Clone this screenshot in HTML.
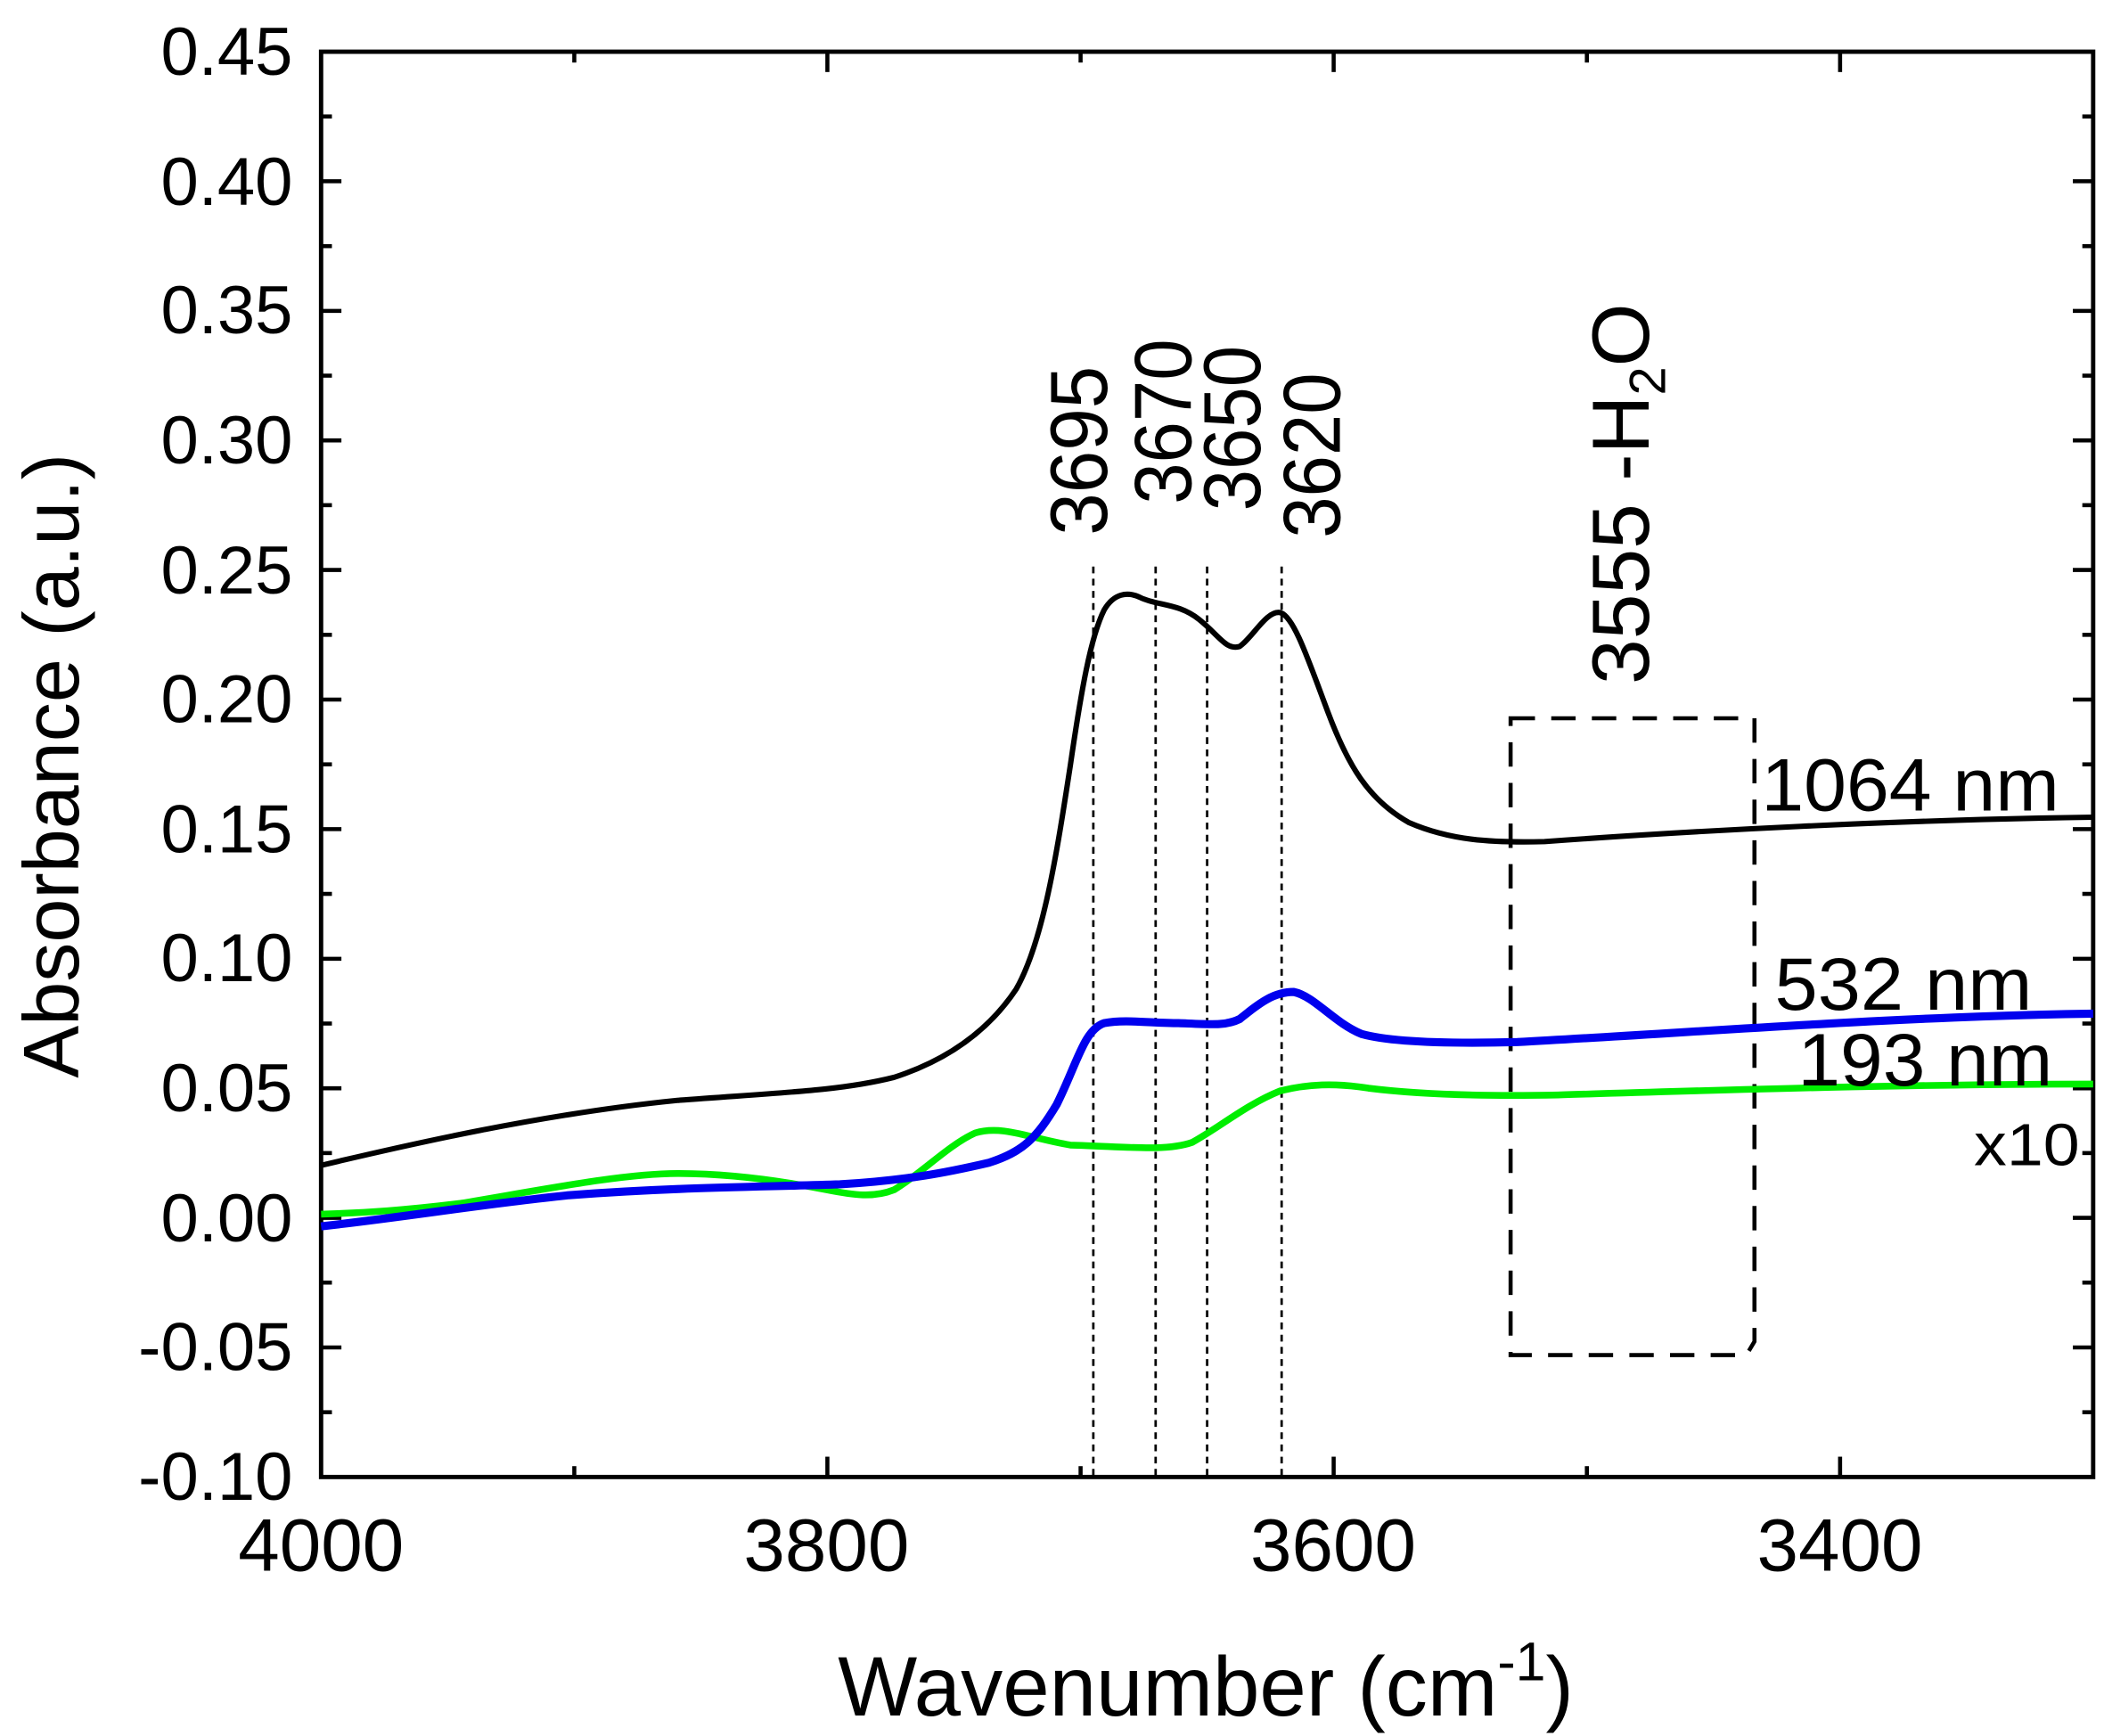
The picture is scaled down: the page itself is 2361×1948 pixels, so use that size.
<!DOCTYPE html>
<html><head><style>html,body{margin:0;padding:0;background:#fff}svg{display:block}</style></head>
<body>
<svg width="2361" height="1948" viewBox="0 0 1553 1281" xmlns="http://www.w3.org/2000/svg" font-family="Liberation Sans, Arial, sans-serif">
<rect width="1553" height="1281" fill="#fff"/>
<g stroke="#000" stroke-width="3.2" fill="none">
<rect x="237" y="38" width="1308" height="1052"/>
</g>
<g stroke="#000" stroke-width="3">
<line x1="237" y1="133.6" x2="252" y2="133.6"/><line x1="237" y1="229.3" x2="252" y2="229.3"/><line x1="237" y1="324.9" x2="252" y2="324.9"/><line x1="237" y1="420.5" x2="252" y2="420.5"/><line x1="237" y1="516.2" x2="252" y2="516.2"/><line x1="237" y1="611.8" x2="252" y2="611.8"/><line x1="237" y1="707.5" x2="252" y2="707.5"/><line x1="237" y1="803.1" x2="252" y2="803.1"/><line x1="237" y1="898.7" x2="252" y2="898.7"/><line x1="237" y1="994.4" x2="252" y2="994.4"/>
<line x1="237" y1="85.8" x2="245" y2="85.8"/><line x1="237" y1="181.5" x2="245" y2="181.5"/><line x1="237" y1="277.1" x2="245" y2="277.1"/><line x1="237" y1="372.7" x2="245" y2="372.7"/><line x1="237" y1="468.4" x2="245" y2="468.4"/><line x1="237" y1="564" x2="245" y2="564"/><line x1="237" y1="659.6" x2="245" y2="659.6"/><line x1="237" y1="755.3" x2="245" y2="755.3"/><line x1="237" y1="850.9" x2="245" y2="850.9"/><line x1="237" y1="946.5" x2="245" y2="946.5"/><line x1="237" y1="1042.2" x2="245" y2="1042.2"/>
<line x1="1530" y1="133.6" x2="1545" y2="133.6"/><line x1="1530" y1="229.3" x2="1545" y2="229.3"/><line x1="1530" y1="324.9" x2="1545" y2="324.9"/><line x1="1530" y1="420.5" x2="1545" y2="420.5"/><line x1="1530" y1="516.2" x2="1545" y2="516.2"/><line x1="1530" y1="611.8" x2="1545" y2="611.8"/><line x1="1530" y1="707.5" x2="1545" y2="707.5"/><line x1="1530" y1="803.1" x2="1545" y2="803.1"/><line x1="1530" y1="898.7" x2="1545" y2="898.7"/><line x1="1530" y1="994.4" x2="1545" y2="994.4"/>
<line x1="1537" y1="85.8" x2="1545" y2="85.8"/><line x1="1537" y1="181.5" x2="1545" y2="181.5"/><line x1="1537" y1="277.1" x2="1545" y2="277.1"/><line x1="1537" y1="372.7" x2="1545" y2="372.7"/><line x1="1537" y1="468.4" x2="1545" y2="468.4"/><line x1="1537" y1="564" x2="1545" y2="564"/><line x1="1537" y1="659.6" x2="1545" y2="659.6"/><line x1="1537" y1="755.3" x2="1545" y2="755.3"/><line x1="1537" y1="850.9" x2="1545" y2="850.9"/><line x1="1537" y1="946.5" x2="1545" y2="946.5"/><line x1="1537" y1="1042.2" x2="1545" y2="1042.2"/>
<line x1="610.7" y1="1090" x2="610.7" y2="1075"/><line x1="984.4" y1="1090" x2="984.4" y2="1075"/><line x1="1358.2" y1="1090" x2="1358.2" y2="1075"/>
<line x1="423.9" y1="1090" x2="423.9" y2="1082"/><line x1="797.6" y1="1090" x2="797.6" y2="1082"/><line x1="1171.3" y1="1090" x2="1171.3" y2="1082"/>
<line x1="610.7" y1="38" x2="610.7" y2="53"/><line x1="984.4" y1="38" x2="984.4" y2="53"/><line x1="1358.2" y1="38" x2="1358.2" y2="53"/>
<line x1="423.9" y1="38" x2="423.9" y2="46"/><line x1="797.6" y1="38" x2="797.6" y2="46"/><line x1="1171.3" y1="38" x2="1171.3" y2="46"/>
</g>
<g font-size="50" text-anchor="end" fill="#000">
<text x="216" y="55">0.45</text><text x="216" y="151">0.40</text><text x="216" y="246">0.35</text><text x="216" y="342">0.30</text><text x="216" y="438">0.25</text><text x="216" y="533">0.20</text><text x="216" y="629">0.15</text><text x="216" y="724">0.10</text><text x="216" y="820">0.05</text><text x="216" y="916">0.00</text><text x="216" y="1011">-0.05</text><text x="216" y="1107">-0.10</text>
</g>
<g font-size="55" text-anchor="middle" fill="#000">
<text x="237" y="1159">4000</text><text x="610" y="1159">3800</text><text x="984" y="1159">3600</text><text x="1358" y="1159">3400</text>
</g>
<text x="890" y="1266" font-size="62" text-anchor="middle">Wavenumber (cm<tspan font-size="40" dy="-26">-1</tspan><tspan dy="26">)</tspan></text>
<text transform="translate(58,565) rotate(-90)" font-size="58" text-anchor="middle">Absorbance (a.u.)</text>
<g stroke="#000" stroke-width="1.8" stroke-dasharray="5,4">
<line x1="807" y1="418" x2="807" y2="1090"/><line x1="853" y1="418" x2="853" y2="1090"/><line x1="891" y1="418" x2="891" y2="1090"/><line x1="946" y1="418" x2="946" y2="1090"/>
</g>
<g font-size="60" fill="#000">
<text transform="translate(817,395) rotate(-90)" textLength="125" lengthAdjust="spacingAndGlyphs">3695</text>
<text transform="translate(879,372) rotate(-90)" textLength="122" lengthAdjust="spacingAndGlyphs">3670</text>
<text transform="translate(930,377) rotate(-90)" textLength="122" lengthAdjust="spacingAndGlyphs">3650</text>
<text transform="translate(989,397) rotate(-90)" textLength="122" lengthAdjust="spacingAndGlyphs">3620</text>
<text transform="translate(1217,505) rotate(-90)">3555 -H<tspan font-size="38" dy="12">2</tspan><tspan dy="-12">O</tspan></text>
</g>
<path d="M1115,530 H1295 V990 L1289,1000 H1115 Z" fill="none" stroke="#000" stroke-width="3" stroke-dasharray="18,12"/>
<path fill="none" stroke="#00ee00" stroke-width="5" stroke-linejoin="round" d="M237,896 C270,895 300,893 340,888 C400,878 460,866 500,866 C540,866 580,872 610,878 C630,882 645,884 660,878 C680,866 700,845 720,836 C740,830 760,840 790,845 C830,846 860,850 880,843 C900,832 920,815 945,805 C965,800 985,799 1010,803 C1050,808 1100,809 1150,808 C1250,805 1400,800 1545,800"/>
<path fill="none" stroke="#0000ee" stroke-width="6" stroke-linejoin="round" d="M237,905 C300,898 360,888 420,882 C500,876 560,876 620,874 C670,871 700,865 730,858 C755,850 765,840 780,815 C795,785 800,760 815,755 C830,752 850,755 870,755 C895,756 905,757 915,752 C930,740 940,732 955,732 C970,735 985,755 1005,763 C1030,770 1080,770 1120,769 C1250,762 1400,750 1545,748"/>
<path fill="none" stroke="#000" stroke-width="4" stroke-linejoin="round" d="M237,860 C300,845 400,822 500,812 C580,806 620,805 660,795 C700,782 730,760 750,730 C770,695 780,630 790,565 C798,510 805,470 815,450 C822,438 832,436 842,441 C855,447 870,445 885,457 C900,469 905,480 915,477 C925,470 935,450 945,452 C955,455 965,485 980,525 C995,565 1010,590 1040,607 C1070,620 1100,622 1140,621 C1250,613 1400,605 1545,603"/>
<g font-size="55" fill="#000">
<text x="1300" y="598" textLength="220" lengthAdjust="spacingAndGlyphs">1064 nm</text>
<text x="1310" y="745" textLength="190" lengthAdjust="spacingAndGlyphs">532 nm</text>
<text x="1327" y="801" textLength="188" lengthAdjust="spacingAndGlyphs">193 nm</text>
<text x="1457" y="860" font-size="44" textLength="78" lengthAdjust="spacingAndGlyphs">x10</text>
</g>
</svg>
</body></html>
